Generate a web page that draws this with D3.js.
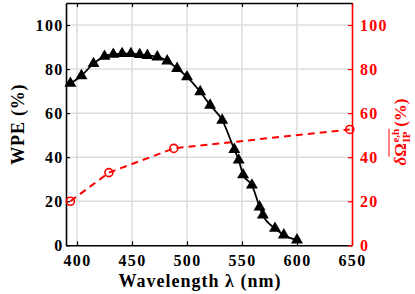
<!DOCTYPE html>
<html lang="en">
<head>
<meta charset="UTF-8">
<title>WPE</title>
<script src="https://cdn.jsdelivr.net/npm/d3@7"></script>
<style>
  body { margin: 0; background: #fff; }
  text { font-family: "Liberation Serif", serif; font-weight: bold; }
</style>
</head>
<body>
<script>
// WPE curve (black triangles)
var wpeLambda = [394, 404, 415, 425, 433, 441, 449, 457, 464, 473, 482, 491, 500,
                 512, 521, 532, 543, 547, 551, 559, 566, 569, 580, 588, 600];
var wpeValues = [73.5, 77, 82.5, 85.8, 86.7, 87, 87, 86.6, 86.2, 85.5, 83.7, 80.3, 76.5,
                 69.7, 63.6, 56.8, 43.5, 38.7, 32, 27.3, 17.4, 13.7, 7.7, 4.7, 2.4];

// overlap curve (red circles)
var omLambda = [394, 429, 488, 648];
var omValues = [20, 33, 44, 52.6];

var xTicks = [400, 450, 500, 550, 600, 650];
var yTicks = [0, 20, 40, 60, 80, 100];

var width = 415, height = 294;
var mLeft = 66, mRight = 352, mTop = 3, mBottom = 245.3;
var serif = "'Liberation Serif', serif";

var svg = d3.select("body").append("svg")
    .attr("width", width)
    .attr("height", height);

var x = d3.scaleLinear().domain([390, 650]).range([mLeft, mRight]);
var y = d3.scaleLinear().domain([0, 110]).range([mBottom, mTop]);

// grid
svg.append("g").selectAll("line")
    .data(xTicks.filter(function (d) { return d < 650; }))
    .enter().append("line")
    .attr("x1", function (d) { return x(d); })
    .attr("x2", function (d) { return x(d); })
    .attr("y1", mTop).attr("y2", mBottom)
    .attr("stroke", "#dcdcdc").attr("stroke-width", 1.5);

svg.append("g").selectAll("line")
    .data(yTicks.filter(function (d) { return d > 0; }))
    .enter().append("line")
    .attr("y1", function (d) { return y(d); })
    .attr("y2", function (d) { return y(d); })
    .attr("x1", mLeft).attr("x2", mRight)
    .attr("stroke", "#dcdcdc").attr("stroke-width", 1.5);

// lines
var wpe = wpeLambda.map(function (l, i) { return [l, wpeValues[i]]; });
var om = omLambda.map(function (l, i) { return [l, omValues[i]]; });

var line = d3.line()
    .x(function (d) { return x(d[0]); })
    .y(function (d) { return y(d[1]); });

svg.append("path").datum(om)
    .attr("d", line.curve(d3.curveLinear))
    .attr("fill", "none")
    .attr("stroke", "#ff0000")
    .attr("stroke-width", 2)
    .attr("stroke-dasharray", "7,5");

svg.append("path").datum(wpe)
    .attr("d", line.curve(d3.curveMonotoneX))
    .attr("fill", "none")
    .attr("stroke", "#000")
    .attr("stroke-width", 1.8);

// axes
function styleAxis(g, color) {
    g.select(".domain").attr("stroke", color).attr("stroke-width", 1.6);
    g.selectAll(".tick line").attr("stroke", color).attr("stroke-width", 1.2);
    g.selectAll(".tick text").attr("fill", color).attr("font-size", "16px")
        .attr("letter-spacing", "1.3px")
        .attr("font-family", serif).attr("font-weight", "bold");
}

var gTop = svg.append("g").attr("transform", "translate(0," + mTop + ")")
    .call(d3.axisTop(x).tickValues(xTicks).tickSize(-4).tickSizeOuter(0).tickFormat(""));
styleAxis(gTop, "#000");

var gBottom = svg.append("g").attr("transform", "translate(0," + mBottom + ")")
    .call(d3.axisBottom(x).tickValues(xTicks).tickSize(-4).tickSizeOuter(0).tickPadding(9.5));
styleAxis(gBottom, "#000");

var gLeft = svg.append("g").attr("transform", "translate(" + mLeft + ",0)")
    .call(d3.axisLeft(y).tickValues(yTicks).tickSize(-4).tickSizeOuter(0).tickPadding(2.5));
styleAxis(gLeft, "#000");

var gRight = svg.append("g").attr("transform", "translate(" + mRight + ",0)")
    .call(d3.axisRight(y).tickValues(yTicks).tickSize(-4).tickSizeOuter(0).tickPadding(8));
styleAxis(gRight, "#ff0000");

// markers
svg.append("g").selectAll("path")
    .data(wpe)
    .enter().append("path")
    .attr("d", d3.symbol().type(d3.symbolTriangle).size(62))
    .attr("transform", function (d) { return "translate(" + x(d[0]) + "," + y(d[1]) + ")"; })
    .attr("fill", "#000");

svg.append("g").selectAll("circle")
    .data(om)
    .enter().append("circle")
    .attr("cx", function (d) { return x(d[0]); })
    .attr("cy", function (d) { return y(d[1]); })
    .attr("r", 4)
    .attr("fill", "none")
    .attr("stroke", "#ff0000")
    .attr("stroke-width", 1.6);

// x label
svg.append("text")
    .attr("x", 200)
    .attr("y", 286.5)
    .attr("text-anchor", "middle")
    .attr("font-size", "18px")
    .attr("letter-spacing", "1px")
    .text("Wavelength λ (nm)");

// left y label
svg.append("text")
    .attr("transform", "translate(24," + ((mTop + mBottom) / 2) + ") rotate(-90)")
    .attr("text-anchor", "middle")
    .attr("font-size", "18px")
    .attr("letter-spacing", "0.8px")
    .text("WPE (%)");

// right y label: δ Ω̄ ^{e,h}_{IP} (%)
var rl = svg.append("g")
    .attr("transform", "translate(406,132) rotate(-90)")
    .attr("fill", "#ff0000");
var inner = rl.append("g");
var tDelta = inner.append("text").attr("x", 0).attr("y", 0)
    .attr("font-size", "17px").attr("font-style", "italic").attr("font-weight", "normal").text("δ");
var wDelta = tDelta.node().getComputedTextLength();
var tOm = inner.append("text").attr("x", wDelta).attr("y", 0)
    .attr("font-size", "17px").text("Ω");
var wOm = tOm.node().getComputedTextLength();
var tSup = inner.append("text").attr("x", wDelta + wOm + 0.5).attr("y", -7)
    .attr("font-size", "11px").text("e,h");
var tSub = inner.append("text").attr("x", wDelta + wOm + 0.5).attr("y", 4)
    .attr("font-size", "11px").text("IP");
var wScript = Math.max(tSup.node().getComputedTextLength(), tSub.node().getComputedTextLength());
var xEnd = wDelta + wOm + 0.5 + wScript;
inner.append("line")
    .attr("x1", wDelta).attr("x2", xEnd)
    .attr("y1", -17).attr("y2", -17)
    .attr("stroke", "#ff0000").attr("stroke-width", 1);
var tPct = inner.append("text").attr("x", xEnd + 2).attr("y", 0)
    .attr("font-size", "17px").attr("font-weight", "normal").text("(%)");
var total = xEnd + 2 + tPct.node().getComputedTextLength();
inner.attr("transform", "translate(" + (-total / 2) + ",0)");
</script>
</body>
</html>
